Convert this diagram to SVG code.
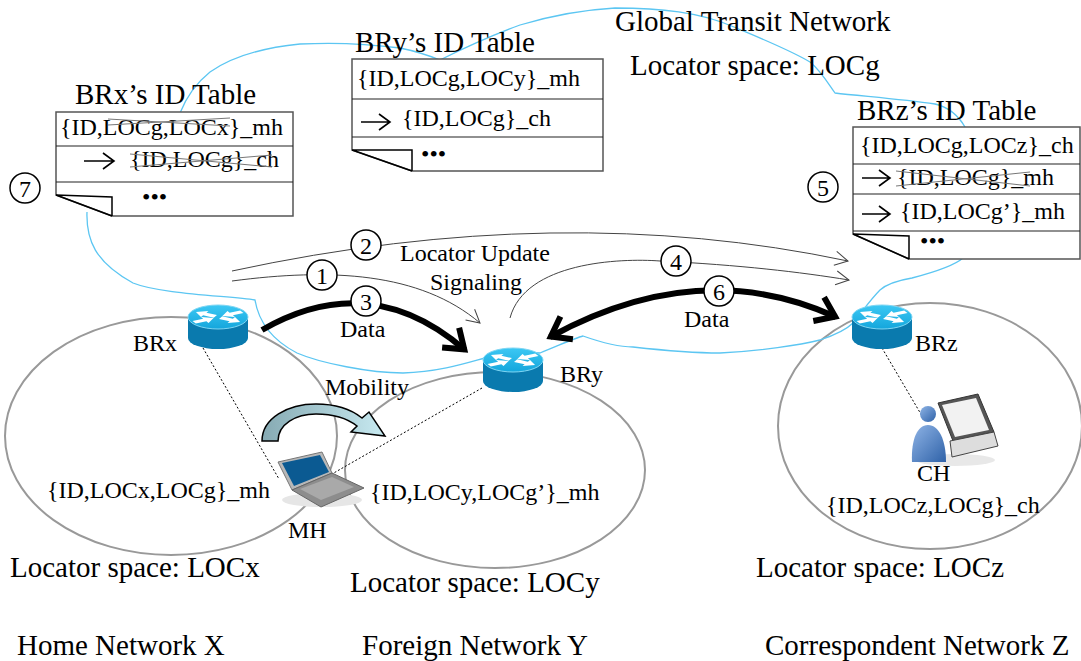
<svg xmlns="http://www.w3.org/2000/svg" width="1081" height="661" viewBox="0 0 1081 661">
<style>
text{font-family:"Liberation Serif","Times New Roman",serif;fill:#000}
.big{font-size:29px}
.med{font-size:24px}
.net{fill:none;stroke:#999;stroke-width:2}
.cloud{fill:none;stroke:#5cc6f2;stroke-width:1.3}
.thin{fill:none;stroke:#444;stroke-width:1}
.thick{fill:none;stroke:#000;stroke-width:6}
.dot{fill:none;stroke:#000;stroke-width:1;stroke-dasharray:2 2}
.tbl{fill:#fff;stroke:#555;stroke-width:1.5}
.row{stroke:#222;stroke-width:1.2}
.flap{fill:none;stroke:#000;stroke-width:1.5}
.strike{stroke:#777;stroke-width:1}
.num circle{fill:#fff;stroke:#000;stroke-width:1.5}
.num text{font-size:24px;text-anchor:middle}
.tarr{fill:none;stroke:#000;stroke-width:1.6}
</style>
<defs>
<marker id="thinHead" markerUnits="userSpaceOnUse" markerWidth="16" markerHeight="18" refX="14" refY="9" orient="auto">
<path d="M1,2 L14,9 L1,16" fill="none" stroke="#444" stroke-width="1"/>
</marker>
<marker id="thickHead" markerUnits="userSpaceOnUse" markerWidth="30" markerHeight="32" refX="24" refY="16" orient="auto-start-reverse">
<path d="M5,3 L23,16 L5,29" fill="none" stroke="#000" stroke-width="6"/>
</marker>
<linearGradient id="mob" x1="0" y1="0" x2="1" y2="0">
<stop offset="0" stop-color="#86aab3"/>
<stop offset="1" stop-color="#c8eaf1"/>
</linearGradient>
<linearGradient id="rtop" x1="0" y1="0" x2="0" y2="1">
<stop offset="0" stop-color="#3cc8f4"/>
<stop offset="1" stop-color="#14a6dc"/>
</linearGradient>
<linearGradient id="person" x1="0" y1="0" x2="1" y2="1">
<stop offset="0" stop-color="#8fb4e6"/>
<stop offset="1" stop-color="#2f62a8"/>
</linearGradient>
<g id="router">
<path d="M-30,0 L-30,21 A30,11 0 0 0 30,21 L30,0 Z" fill="#0a7aae"/>
<ellipse cx="0" cy="0" rx="30" ry="12" fill="url(#rtop)" stroke="#7fd6f3" stroke-width="1"/>
<g transform="scale(1,0.42)" fill="#fff">
<path d="M0,-3.5 L12,-3.5 L12,-8 L22,0 L12,8 L12,3.5 L0,3.5Z" transform="rotate(208) translate(3,0)"/>
<path d="M0,-3.5 L12,-3.5 L12,-8 L22,0 L12,8 L12,3.5 L0,3.5Z" transform="rotate(28) translate(3,0)"/>
<path d="M0,-3.5 L12,-3.5 L12,-8 L22,0 L12,8 L12,3.5 L0,3.5Z" transform="rotate(-28) translate(27,0) rotate(180)"/>
<path d="M0,-3.5 L12,-3.5 L12,-8 L22,0 L12,8 L12,3.5 L0,3.5Z" transform="rotate(152) translate(27,0) rotate(180)"/>
</g>
</g>
</defs>

<!-- network ellipses -->
<g id="networks">
<ellipse class="net" cx="171" cy="436" rx="166" ry="119"/>
<ellipse class="net" cx="495" cy="470" rx="150" ry="98"/>
<ellipse class="net" cx="930" cy="426" rx="152" ry="123"/>
</g>

<!-- global transit network cloud -->
<path id="cloud" class="cloud" d="M87,212 C86,240 95,262 133,283 C160,294 230,296 255,300 C258,318 268,338 297,353 C320,363 370,373 403,373 C440,372 470,362 485,358 C510,350 530,352 540,353 C560,345 575,338 583,336 C600,342 620,347 633,347 C660,350 690,353 720,353 C760,351 800,345 820,340 C835,335 848,328 853,323 C862,312 870,300 880,290 C888,283 900,280 912,278 C935,272 955,265 963,258 L965,127 C958,115 948,107 935,104 C900,99 860,96 835,93 C826,80 820,70 810,62 C790,50 760,38 734,27 C700,12 660,8 615,8 C580,10 550,16 520,25 C490,36 460,50 440,60 C430,56 420,52 400,48 C370,44 340,42 300,44 C260,48 230,58 210,72 C195,84 186,98 180,113"/>

<!-- connectors -->
<g id="connectors">
<path class="thin" d="M232,271 Q560,200 848,261" marker-end="url(#thinHead)"/>
<path class="thin" d="M232,281 C330,268 420,272 480,323" marker-end="url(#thinHead)"/>
<path class="thin" d="M510,318 C525,262 620,258 660,261 C740,265 800,272 849,280" marker-end="url(#thinHead)"/>
<path class="thick" d="M262,330 Q370,268 465,350" marker-end="url(#thickHead)"/>
<path class="thick" d="M550,337 Q700,255 836,317" marker-start="url(#thickHead)" marker-end="url(#thickHead)"/>
<path class="dot" d="M203,348 L279,479"/>
<path class="dot" d="M482,388 L332,474"/>
<path class="dot" d="M882,348 L925,421"/>
</g>

<!-- step numbers -->
<g class="num" id="steps">
<g><circle cx="322" cy="275" r="15"/><text x="322" y="284">1</text></g>
<g><circle cx="366" cy="245" r="15"/><text x="366" y="254">2</text></g>
<g><circle cx="366" cy="301" r="15"/><text x="366" y="310">3</text></g>
<g><circle cx="676" cy="261" r="15"/><text x="676" y="270">4</text></g>
<g><circle cx="823" cy="187" r="15"/><text x="823" y="196">5</text></g>
<g><circle cx="719" cy="291" r="15"/><text x="719" y="300">6</text></g>
<g><circle cx="25" cy="188" r="15"/><text x="25" y="197">7</text></g>
</g>

<!-- labels on connectors -->
<g id="connector-labels">
<text class="med" x="400" y="261">Locator Update</text>
<text class="med" x="430" y="290">Signaling</text>
<text class="med" x="340" y="337">Data</text>
<text class="med" x="684" y="327">Data</text>
<text class="med" x="325" y="395">Mobility</text>
</g>

<!-- global network text -->
<g id="global-label">
<text class="big" x="615" y="31">Global Transit Network</text>
<text class="big" x="630" y="75">Locator space: LOCg</text>
</g>

<!-- BRx table -->
<g id="brx-table">
<text class="big" x="75" y="104">BRx’s ID Table</text>
<path class="tbl" d="M56,112 H293 V216 H112 L56,195 Z"/>
<line class="row" x1="56" y1="146" x2="293" y2="146"/>
<line class="row" x1="56" y1="182" x2="293" y2="182"/>
<path class="flap" d="M56,195 L112,197 V216 M56,195 L112,216"/>
<text class="med" x="60" y="135">{ID,LOCg,LOCx}_mh</text>
<line class="strike" x1="108" y1="119" x2="230" y2="126"/>
<line class="strike" x1="108" y1="125" x2="230" y2="118"/>
<path class="tarr" d="M84,161 H113 M103,153 L114,161 L103,169"/>
<text class="med" x="130" y="167">{ID,LOCg}_ch</text>
<line class="strike" x1="130" y1="154" x2="272" y2="167"/>
<line class="strike" x1="130" y1="167" x2="272" y2="155"/>
<text class="med" x="142" y="205">•••</text>
</g>

<!-- BRy table -->
<g id="bry-table">
<text class="big" x="355" y="52">BRy’s ID Table</text>
<path class="tbl" d="M352,59 H603 V171 H412 L352,150 Z"/>
<line class="row" x1="352" y1="99" x2="603" y2="99"/>
<line class="row" x1="352" y1="137" x2="603" y2="137"/>
<path class="flap" d="M352,150 L412,150 V171 M352,150 L412,171"/>
<text class="med" x="357" y="86">{ID,LOCg,LOCy}_mh</text>
<path class="tarr" d="M361,122 H389 M379,114 L390,122 L379,130"/>
<text class="med" x="402" y="126">{ID,LOCg}_ch</text>
<text class="med" x="421" y="162">•••</text>
</g>

<!-- BRz table -->
<g id="brz-table">
<text class="big" x="857" y="120">BRz’s ID Table</text>
<path class="tbl" d="M853,127 H1080 V259 H909 L853,234 Z"/>
<line class="row" x1="853" y1="164" x2="1080" y2="164"/>
<line class="row" x1="853" y1="194" x2="1080" y2="194"/>
<line class="row" x1="853" y1="231" x2="1080" y2="231"/>
<path class="flap" d="M853,234 L909,236 V259 M853,234 L909,259"/>
<text class="med" x="860" y="153">{ID,LOCg,LOCz}_ch</text>
<path class="tarr" d="M862,178 H889 M879,170 L890,178 L879,186"/>
<text class="med" x="897" y="185">{ID,LOCg}_mh</text>
<line class="strike" x1="896" y1="171" x2="1030" y2="186"/>
<line class="strike" x1="896" y1="186" x2="1030" y2="172"/>
<path class="tarr" d="M862,214 H889 M879,206 L890,214 L879,222"/>
<text class="med" x="900" y="219">{ID,LOCg’}_mh</text>
<text class="med" x="920" y="249">•••</text>
</g>

<!-- routers -->
<g id="BRx"><use href="#router" x="218" y="317"/><text class="med" x="133" y="351">BRx</text></g>
<g id="BRy"><use href="#router" x="513" y="360"/><text class="med" x="560" y="382">BRy</text></g>
<g id="BRz"><use href="#router" x="882" y="317"/><text class="med" x="915" y="351">BRz</text></g>

<!-- mobility arrow -->
<g id="mobility-arrow">
<path d="M262,441 C262,418 288,404 316,404 C336,404 352,410 362,418 L369,412 L385,436 L351,432 L357,426 C348,419 334,414 316,414 C296,414 278,424 278,441 Z" fill="url(#mob)" stroke="#000" stroke-width="1.5"/>
</g>

<!-- MH laptop -->
<g id="MH">
<ellipse cx="322" cy="500" rx="40" ry="7" fill="#e6e6e6"/>
<path d="M278,462 L322,452 L332,473 L292,490 Z" fill="#b8b8b8" stroke="#777" stroke-width="1"/>
<path d="M282,463 L320,455 L329,472 L294,486 Z" fill="#0b5a92"/>
<path d="M292,490 L332,473 L364,488 L321,507 Z" fill="#8d8d8d" stroke="#666" stroke-width="1"/>
<path d="M300,489 L332,477 L354,487 L321,500 Z" fill="#a9a9a9"/>
<text class="med" x="288" y="538">MH</text>
<text class="med" x="47" y="498">{ID,LOCx,LOCg}_mh</text>
</g>

<!-- CH -->
<g id="CH">
<ellipse cx="955" cy="460" rx="40" ry="6" fill="#e8e8e8"/>
<path d="M938,403 L978,394 L994,432 L953,441 Z" fill="#555" stroke="#333" stroke-width="1"/>
<path d="M942,405 L976,398 L989,430 L955,437 Z" fill="#f2f2f2"/>
<path d="M950,441 L994,432 L998,446 L952,457 Z" fill="#ddd" stroke="#444" stroke-width="1"/>
<circle cx="928" cy="414" r="8" fill="url(#person)"/>
<path d="M912,462 C911,440 917,425 928,425 C939,425 946,440 946,462 Z" fill="url(#person)"/>
<text class="med" x="917" y="481">CH</text>
<text class="med" x="826" y="513">{ID,LOCz,LOCg}_ch</text>
</g>

<g id="network-labels">
<text class="med" x="370" y="500">{ID,LOCy,LOCg’}_mh</text>
<text class="big" x="10" y="577">Locator space: LOCx</text>
<text class="big" x="350" y="592">Locator space: LOCy</text>
<text class="big" x="756" y="577">Locator space: LOCz</text>
<text class="big" x="17" y="655">Home Network X</text>
<text class="big" x="362" y="655">Foreign Network Y</text>
<text class="big" x="765" y="655">Correspondent Network Z</text>
</g>
</svg>
